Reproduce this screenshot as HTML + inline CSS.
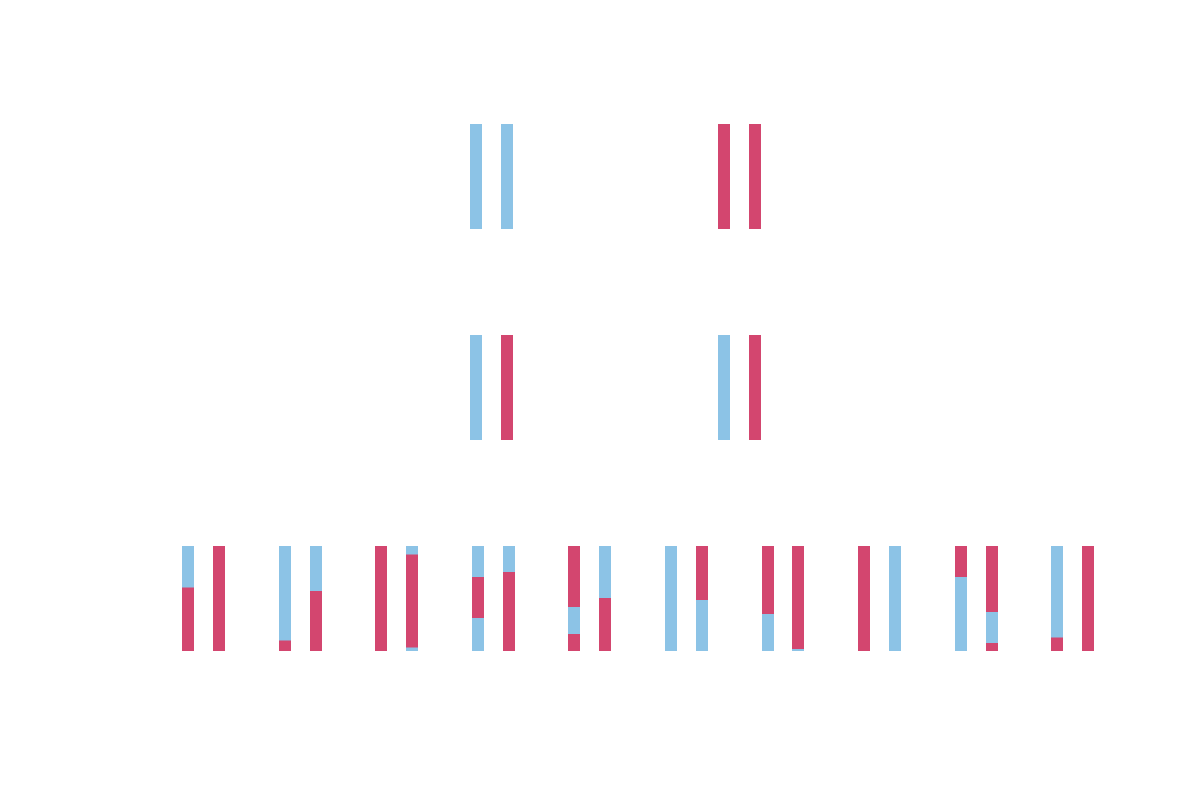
<!DOCTYPE html>
<html><head><style>html,body{margin:0;padding:0;background:#fff;}svg{display:block}</style></head>
<body>
<svg width="1180" height="800" xmlns="http://www.w3.org/2000/svg">
<g fill="#8cc3e6">
<rect x="470" y="124" width="12" height="105"/>
<rect x="501" y="124" width="12" height="105"/>
<rect x="470" y="335" width="12" height="105"/>
<rect x="718" y="335" width="12" height="105"/>
</g>
<g fill="#d3466f">
<rect x="718" y="124" width="12" height="105"/>
<rect x="749" y="124" width="12" height="105"/>
<rect x="501" y="335" width="12" height="105"/>
<rect x="749" y="335" width="12" height="105"/>
</g>
<!-- bottom row: blue background bars, red segments overlay -->
<g fill="#8cc3e6">
<rect x="182" y="546" width="12" height="105"/>
<rect x="279" y="546" width="12" height="105"/>
<rect x="310" y="546" width="12" height="105"/>
<rect x="406" y="546" width="12" height="105"/>
<rect x="472" y="546" width="12" height="105"/>
<rect x="503" y="546" width="12" height="105"/>
<rect x="568" y="546" width="12" height="105"/>
<rect x="599" y="546" width="12" height="105"/>
<rect x="665" y="546" width="12" height="105"/>
<rect x="696" y="546" width="12" height="105"/>
<rect x="762" y="546" width="12" height="105"/>
<rect x="792" y="546" width="12" height="105"/>
<rect x="889" y="546" width="12" height="105"/>
<rect x="955" y="546" width="12" height="105"/>
<rect x="986" y="546" width="12" height="105"/>
<rect x="1051" y="546" width="12" height="105"/>
</g>
<g fill="#d3466f">
<rect x="182" y="587.5" width="12" height="63.5"/>
<rect x="213" y="546" width="12" height="105"/>
<rect x="279" y="640.5" width="12" height="10.5"/>
<rect x="310" y="591" width="12" height="60"/>
<rect x="375" y="546" width="12" height="105"/>
<rect x="406" y="554.5" width="12" height="93"/>
<rect x="472" y="577" width="12" height="41"/>
<rect x="503" y="572" width="12" height="79"/>
<rect x="568" y="546" width="12" height="61"/>
<rect x="568" y="634" width="12" height="17"/>
<rect x="599" y="598" width="12" height="53"/>
<rect x="696" y="546" width="12" height="54"/>
<rect x="762" y="546" width="12" height="68"/>
<rect x="792" y="546" width="12" height="103"/>
<rect x="858" y="546" width="12" height="105"/>
<rect x="955" y="546" width="12" height="31"/>
<rect x="986" y="546" width="12" height="66"/>
<rect x="986" y="643" width="12" height="8"/>
<rect x="1051" y="637.5" width="12" height="13.5"/>
<rect x="1082" y="546" width="12" height="105"/>
</g>
</svg>
</body></html>
